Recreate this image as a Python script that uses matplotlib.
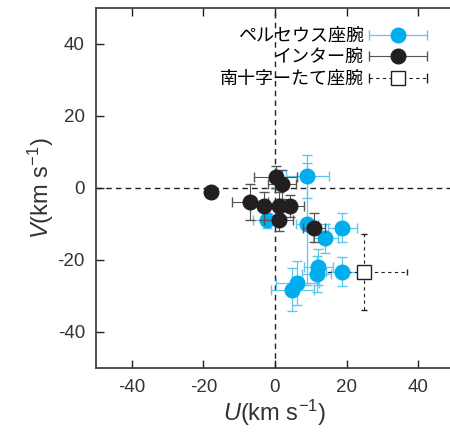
import numpy as np
import matplotlib
matplotlib.use("Agg")
import matplotlib.pyplot as plt
from matplotlib.legend_handler import HandlerErrorbar

plt.rcParams["font.family"] = ["Liberation Sans", "Noto Sans CJK JP"]
plt.rcParams["mathtext.fontset"] = "custom"
plt.rcParams["mathtext.rm"] = "Liberation Sans"
plt.rcParams["mathtext.it"] = "Liberation Sans:italic"

# Perseus arm (blue)
per_u = [9.0, -2.1, 9.0, 18.8, 14.0, 12.1, 11.6, 18.8, 6.2, 4.8]
per_v = [3.2, -9.0, -10.0, -11.0, -14.0, -22.0, -23.8, -23.2, -26.4, -28.3]
per_ue = [6.0, 4.0, 3.0, 4.0, 3.5, 4.0, 4.0, 4.5, 6.0, 6.0]
per_ve = [6.0, 2.0, 17.0, 4.0, 4.0, 5.0, 5.0, 4.0, 6.0, 6.0]

# inter-arm (black)
int_u = [-18.0, 0.2, 2.0, -7.0, -3.0, 1.0, 4.2, 1.0, 10.9]
int_v = [-1.0, 3.0, 1.0, -4.0, -5.0, -5.0, -5.0, -9.0, -11.0]
int_ue = [0.0, 6.0, 4.0, 5.0, 4.0, 4.0, 4.0, 4.0, 3.0]
int_ve = [0.0, 3.0, 4.0, 5.0, 4.0, 4.0, 3.0, 3.0, 4.0]

# Crux-Scutum arm (open square)
crux_u = [24.9]
crux_v = [-23.4]
crux_ue = [12.0]
crux_ve = [10.5]

labels = ["ペルセウス座腕", "インター腕", "南十字ーたて座腕"]
ticks = [-40, -20, 0, 20, 40]
BLUE = "#00AEEF"
BLACK = "#231F20"

fig = plt.figure(figsize=(4.5, 4.33), dpi=100)
ax = fig.add_axes([96 / 450, 65 / 433, 358 / 450, 360 / 433])

ax.axhline(0, color=BLACK, lw=1.0, ls=(0, (4, 3)), zorder=1)
ax.axvline(0, color=BLACK, lw=1.0, ls=(0, (4, 3)), zorder=1)

ax.errorbar(per_u, per_v, xerr=per_ue, yerr=per_ve, fmt="o", color=BLUE,
            ms=10.5, ecolor="#5cc8f0", elinewidth=0.9, capsize=3.5, zorder=3)
ax.errorbar(int_u, int_v, xerr=int_ue, yerr=int_ve, fmt="o", color=BLACK,
            ms=10.5, ecolor="#555555", elinewidth=0.8, capsize=3.5, zorder=4)
eb = ax.errorbar(crux_u, crux_v, xerr=crux_ue, yerr=crux_ve, fmt="s",
                 mfc="white", mec=BLACK, color=BLACK, ms=10, mew=1.0,
                 ecolor=BLACK, elinewidth=0.8, capsize=2.5, zorder=3)
for ln in eb[2]:
    ln.set_linestyle((0, (3, 3)))

# legend proxies with horizontal error bars only
h1 = ax.errorbar([np.nan], [np.nan], xerr=[1], fmt="o", color=BLUE, ms=10.5,
                 ecolor="#5cc8f0", elinewidth=0.9, capsize=3.5)
h2 = ax.errorbar([np.nan], [np.nan], xerr=[1], fmt="o", color=BLACK, ms=10.5,
                 ecolor="#555555", elinewidth=0.8, capsize=3.5)
h3 = ax.errorbar([np.nan], [np.nan], xerr=[1], fmt="s", mfc="white",
                 mec=BLACK, ms=10, mew=1.0, ecolor=BLACK, elinewidth=0.8,
                 capsize=3.5)
for ln in h3[2]:
    ln.set_linestyle((0, (3, 3)))

ax.legend([h1, h2, h3], labels, loc="upper right", bbox_to_anchor=(0.955, 0.975),
          frameon=False, markerfirst=False, fontsize=13, handlelength=3.2,
          labelspacing=0.25, handletextpad=0.3, borderaxespad=0.2,
          handler_map={type(h1): HandlerErrorbar(xerr_size=1.6)})

ax.set_xlim(-50, 50)
ax.set_ylim(-50, 50)
ax.set_xticks(ticks)
ax.set_yticks(ticks)
ax.set_xticklabels([str(t) for t in ticks])
ax.set_yticklabels([str(t) for t in ticks])
ax.tick_params(direction="in", length=6, width=1.0, labelsize=13.5,
               top=True, right=False, colors=BLACK, labelcolor="#333333",
               pad=8)
for sp in ax.spines.values():
    sp.set_linewidth(1.2)
    sp.set_color("#333333")

ax.set_xlabel(r"$U$(km s$^{-1}$)", fontsize=17, color="#333333", labelpad=1)
ax.set_ylabel(r"$V$(km s$^{-1}$)", fontsize=17, color="#333333", labelpad=1)

fig.savefig("out.png", dpi=100)
